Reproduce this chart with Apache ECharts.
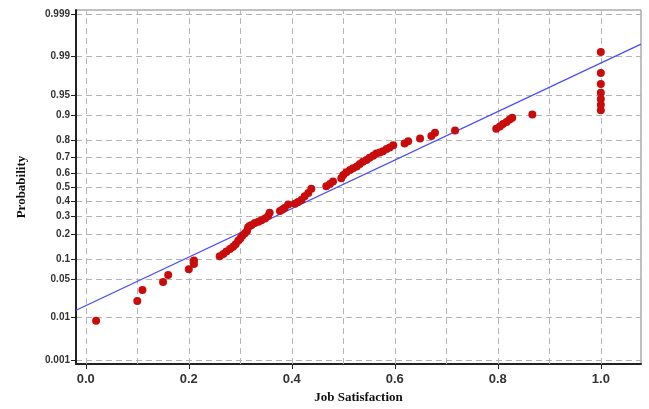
<!DOCTYPE html>
<html>
<head>
<meta charset="utf-8">
<script src="https://cdn.jsdelivr.net/npm/echarts@6/dist/echarts.min.js"></script>
<style>
html,body{margin:0;padding:0;background:#fff;}
#chart{width:649px;height:409px;}
</style>
</head>
<body>
<div id="chart"></div>
<script>
// job satisfaction values and their plotting probabilities
var satisfaction = [0.02, 0.10, 0.11, 0.15, 0.16, 0.20, 0.21, 0.21, 0.26, 0.267,
    0.273, 0.28, 0.286, 0.291, 0.296, 0.30, 0.304, 0.309, 0.313, 0.315,
    0.318, 0.322, 0.328, 0.335, 0.341, 0.348, 0.354, 0.357, 0.377, 0.382,
    0.386, 0.393, 0.406, 0.412, 0.419, 0.425, 0.432, 0.438, 0.467, 0.474,
    0.48, 0.496, 0.50, 0.506, 0.513, 0.519, 0.526, 0.532, 0.538, 0.545,
    0.551, 0.558, 0.564, 0.571, 0.577, 0.584, 0.59, 0.597, 0.619, 0.626,
    0.649, 0.671, 0.678, 0.717, 0.797, 0.804, 0.81, 0.817, 0.823, 0.828,
    0.867, 1.0, 1.0, 1.0, 1.0, 1.0, 1.0, 1.0];
var probability = [0.0085, 0.021, 0.033, 0.045, 0.058, 0.071, 0.085, 0.095, 0.108, 0.116,
    0.125, 0.134, 0.143, 0.154, 0.169, 0.179, 0.192, 0.205, 0.217, 0.235,
    0.244, 0.249, 0.26, 0.268, 0.276, 0.288, 0.302, 0.323, 0.334, 0.345,
    0.355, 0.377, 0.382, 0.394, 0.411, 0.434, 0.458, 0.488, 0.505, 0.521,
    0.54, 0.563, 0.586, 0.605, 0.62, 0.632, 0.643, 0.66, 0.675, 0.685,
    0.70, 0.712, 0.726, 0.732, 0.739, 0.751, 0.76, 0.772, 0.781, 0.793,
    0.807, 0.819, 0.834, 0.844, 0.851, 0.86, 0.87, 0.877, 0.886, 0.892,
    0.902, 0.915, 0.929, 0.942, 0.954, 0.967, 0.979, 0.992];

// fitted normal line
var fitMean = 0.489;
var fitSd = 0.231;

var probTicks = ['0.001', '0.01', '0.05', '0.1', '0.2', '0.3', '0.4', '0.5',
    '0.6', '0.7', '0.8', '0.9', '0.95', '0.99', '0.999'];
var xGridTicks = [0, 0.1, 0.2, 0.3, 0.4, 0.5, 0.6, 0.7, 0.8, 0.9, 1.0];
var xLabelTicks = [0, 0.2, 0.4, 0.6, 0.8, 1.0];

var xMin = -0.019, xMax = 1.078;
var zMin = -3.16, zMax = 3.16;

// inverse normal cdf (Acklam)
function probit(p){
    var a = [-3.969683028665376e+01, 2.209460984245205e+02, -2.759285104469687e+02,
        1.383577518672690e+02, -3.066479806614716e+01, 2.506628277459239e+00];
    var b = [-5.447609879822406e+01, 1.615858368580409e+02, -1.556989798598866e+02,
        6.680131188771972e+01, -1.328068155288572e+01];
    var c = [-7.784894002430293e-03, -3.223964580411365e-01, -2.400758277161838e+00,
        -2.549732539343734e+00, 4.374664141464968e+00, 2.938163982698783e+00];
    var d = [7.784695709041462e-03, 3.224671290700398e-01, 2.445134137142996e+00,
        3.754408661907416e+00];
    var q, r;
    if(p < 0.02425){
        q = Math.sqrt(-2 * Math.log(p));
        return (((((c[0]*q+c[1])*q+c[2])*q+c[3])*q+c[4])*q+c[5]) /
            ((((d[0]*q+d[1])*q+d[2])*q+d[3])*q+1);
    }
    if(p > 1 - 0.02425){
        q = Math.sqrt(-2 * Math.log(1 - p));
        return -(((((c[0]*q+c[1])*q+c[2])*q+c[3])*q+c[4])*q+c[5]) /
            ((((d[0]*q+d[1])*q+d[2])*q+d[3])*q+1);
    }
    q = p - 0.5;
    r = q * q;
    return (((((a[0]*r+a[1])*r+a[2])*r+a[3])*r+a[4])*r+a[5])*q /
        (((((b[0]*r+b[1])*r+b[2])*r+b[3])*r+b[4])*r+1);
}

var zTicks = probTicks.map(function(t){ return probit(parseFloat(t)); });

var points = [];
for(var i = 0; i < satisfaction.length; i++){
    points.push([satisfaction[i], probit(probability[i])]);
}
var fitLine = [[xMin, (xMin - fitMean) / fitSd], [xMax, (xMax - fitMean) / fitSd]];

var gridStyle = {color: '#b4b4b4', type: [6, 4], width: 1};

var chart = echarts.init(document.getElementById('chart'));
var option = {
    animation: false,
    grid: {
        left: 76, right: 8, top: 10, bottom: 43,
        show: true, borderColor: '#808080', borderWidth: 1
    },
    xAxis: {
        type: 'value', min: xMin, max: xMax,
        name: 'Job Satisfaction', nameLocation: 'middle', nameGap: 26,
        nameTextStyle: {fontFamily: 'Liberation Serif', fontWeight: 'bold', fontSize: 13, color: '#111'},
        axisLine: {onZero: false, lineStyle: {color: '#222', width: 2}},
        axisTick: {show: true, inside: false, customValues: xLabelTicks, length: 5,
            lineStyle: {color: '#222', width: 1}},
        axisLabel: {customValues: xLabelTicks, margin: 9,
            fontFamily: 'Liberation Sans', fontWeight: 'bold', fontSize: 13, color: '#333',
            formatter: function(v){ return v.toFixed(1); }},
        splitLine: {show: false}
    },
    yAxis: {
        type: 'value', min: zMin, max: zMax,
        name: 'Probability', nameLocation: 'middle', nameGap: 48,
        nameTextStyle: {fontFamily: 'Liberation Serif', fontWeight: 'bold', fontSize: 13, color: '#111'},
        axisLine: {onZero: false, lineStyle: {color: '#222', width: 2}},
        axisTick: {show: true, customValues: zTicks, length: 5, lineStyle: {color: '#222'}},
        axisLabel: {customValues: zTicks, margin: 6,
            fontFamily: 'Liberation Sans', fontWeight: 'bold', fontSize: 10, color: '#333',
            formatter: function(v){
                var best = 0;
                for(var k = 1; k < zTicks.length; k++){
                    if(Math.abs(zTicks[k] - v) < Math.abs(zTicks[best] - v)) best = k;
                }
                return probTicks[best];
            }},
        splitLine: {show: true, lineStyle: gridStyle}
    },
    series: [{
        type: 'line', data: [], z: 1,
        markLine: {
            silent: true, symbol: 'none', animation: false, z: 1,
            label: {show: false}, lineStyle: gridStyle,
            emphasis: {disabled: true},
            data: xGridTicks.map(function(v){ return {xAxis: v}; })
        }
    }, {
        type: 'line', data: fitLine, showSymbol: false,
        lineStyle: {color: '#4b4bff', width: 1.3}, z: 2
    }, {
        type: 'scatter', data: points, symbolSize: 8,
        itemStyle: {color: '#c80c0c', opacity: 1}, z: 3
    }]
};
chart.setOption(option);
</script>
</body>
</html>
